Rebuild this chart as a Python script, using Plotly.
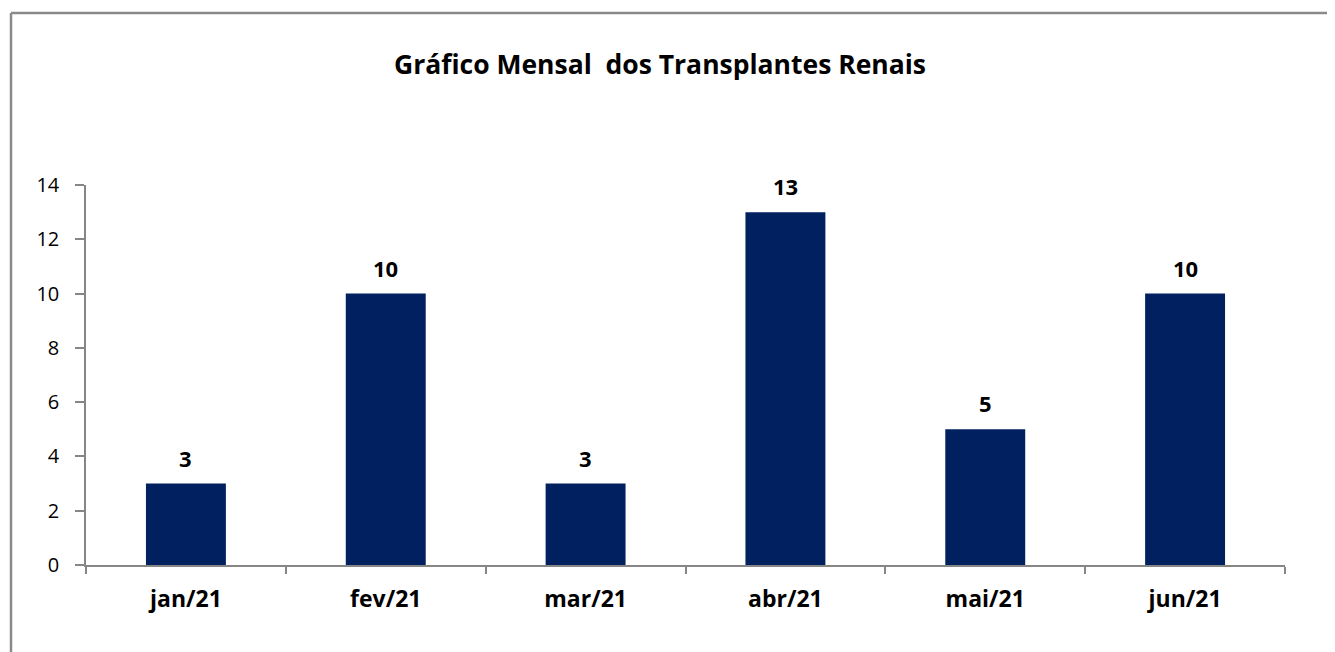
import plotly.graph_objects as go

months = ["jan/21", "fev/21", "mar/21", "abr/21", "mai/21", "jun/21"]
values = [3, 10, 3, 13, 5, 10]
title = "Gráfico Mensal  dos Transplantes Renais"
y_ticks = [0, 2, 4, 6, 8, 10, 12, 14]

FONT = "Open Sans, Carlito, Calibri, sans-serif"
AXIS_COLOR = "#868686"

# page body adds an 8px offset; size the figure to fit the 1335x652 window
OFF = 8
W, H = 1335 - OFF, 652 - OFF
L, R, T, B = 86 - OFF, 50, 185 - OFF, 87
pw, ph = W - L - R, H - T - B

def px2x(px):
    return (px - OFF - L) / pw

def py2y(py):
    return (H - B - (py - OFF)) / ph

fig = go.Figure()
fig.add_trace(go.Bar(
    x=months, y=values, marker=dict(color="#002060", line=dict(width=0)),
    width=0.4, hoverinfo="x+y",
))

for m, v in zip(months, values):
    fig.add_annotation(x=m, y=v, text=f"<b>{v}</b>", showarrow=False,
                       yshift=26, font=dict(family=FONT, size=22, color="#000000"))

fig.add_shape(type="line", xref="paper", yref="paper",
              x0=px2x(11), x1=px2x(1345), y0=py2y(13), y1=py2y(13),
              line=dict(color="#8a8a8a", width=2.5))
fig.add_shape(type="line", xref="paper", yref="paper",
              x0=px2x(11), x1=px2x(11), y0=py2y(13), y1=py2y(670),
              line=dict(color="#8a8a8a", width=2.5))

fig.update_layout(
    width=W, height=H,
    margin=dict(l=L, r=R, t=T, b=B, autoexpand=False),
    paper_bgcolor="white", plot_bgcolor="white",
    showlegend=False,
    title=dict(text=f"<b>{title}</b>", x=(660 - OFF) / W, xanchor="center",
               y=1 - (65 - OFF) / H, yanchor="middle",
               font=dict(family=FONT, size=26.5, color="#000000")),
    font=dict(family=FONT, color="#000000"),
    xaxis=dict(
        type="category", showline=True, linecolor=AXIS_COLOR, linewidth=1.5,
        ticks="outside", tickson="boundaries", ticklen=7, tickcolor=AXIS_COLOR, tickwidth=1.5,
        tickfont=dict(family=FONT, size=23, color="#000000"),
        tickprefix="<b>", ticksuffix="</b>",
        showgrid=False, zeroline=False, ticklabelstandoff=13,
    ),
    yaxis=dict(
        range=[0, 14], tickvals=y_ticks, showline=True, linecolor=AXIS_COLOR, linewidth=1.5,
        ticks="outside", ticklen=9, tickcolor=AXIS_COLOR, tickwidth=1.5,
        tickfont=dict(family=FONT, size=20, color="#000000"),
        showgrid=False, zeroline=False, ticklabelstandoff=12,
    ),
)

fig.write_html("out.html")
